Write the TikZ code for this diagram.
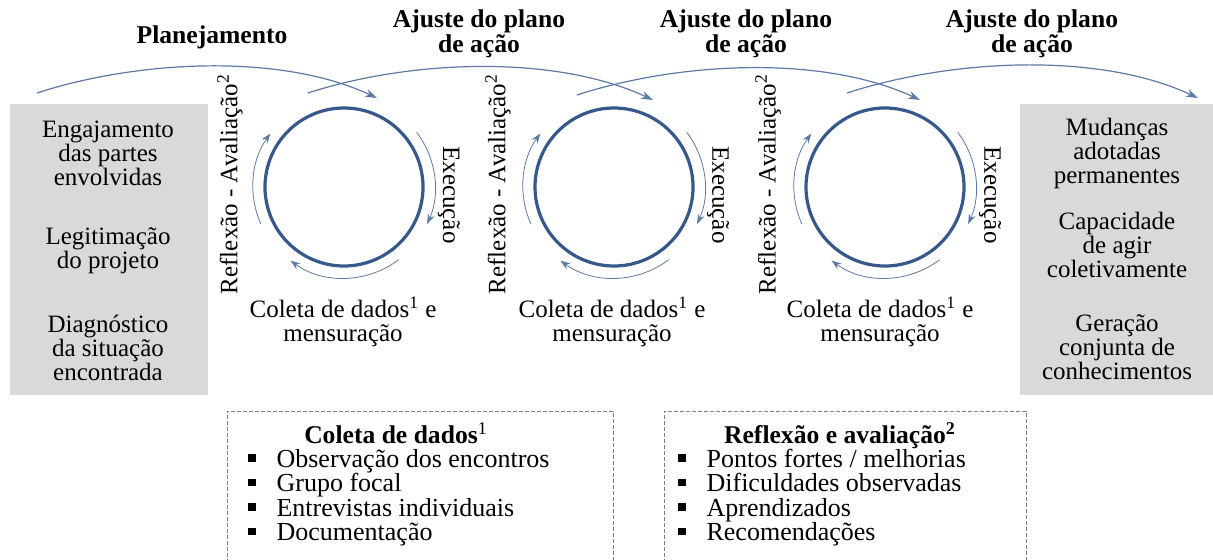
\documentclass[tikz,border=0pt]{standalone}
\usepackage{fontspec}
\setmainfont{Liberation Serif}
\usetikzlibrary{positioning, arrows.meta}
\definecolor{ringblue}{HTML}{37588A}
\definecolor{arcblue}{HTML}{5B7AA6}
\definecolor{panelgray}{HTML}{D9D9D9}
\definecolor{dashgray}{HTML}{7F7F7F}
\tikzstyle{arrow} = [semithick, draw=arcblue, -{Stealth[length=6pt,width=4pt]}]
\newcommand{\sqbullet}{\raisebox{2.7pt}{\rule{3.6pt}{3.6pt}}\hspace{10.5pt}}

\begin{document}
\begin{tikzpicture}[x=0.5pt, y=0.5pt]
    \tikzstyle{every node}=[font=\fontsize{12.5}{12}\selectfont]
    \tikzstyle{panel} = [rectangle, fill=panelgray, draw=none, inner sep=0pt, minimum width=99pt, minimum height=145.5pt]
    \tikzstyle{ring} = [circle, draw=ringblue, line width=1.6pt, minimum size=79pt, inner sep=0pt]
    \tikzstyle{turn} = [thin, draw=arcblue, -{Stealth[length=5pt,width=3.5pt]}]
    \tikzstyle{stage} = [align=center, inner sep=0pt]
    \tikzstyle{heading} = [align=center, inner sep=0pt, font=\fontsize{12.8}{12.5}\selectfont\bfseries]
    \tikzstyle{listbox} = [draw=dashgray, dash pattern=on 2pt off 1pt]
    \tikzstyle{item} = [anchor=base west, inner sep=0pt, font=\fontsize{13}{12}\selectfont]

    \useasboundingbox (0,0) rectangle (1213,-560);
    \clip (0,0) rectangle (1213,-560);

    % side panels
    \node[panel](left) at (109,-249.5) {};
    \node[panel, minimum width=97pt](right) at (1117,-249.5) {};
    \node[stage](l1) at (108,-153) {Engajamento\\das partes\\envolvidas};
    \node[stage](l2) at (108,-251) {Legitimação\\do projeto};
    \node[stage](l3) at (108,-348) {Diagnóstico\\da situação\\encontrada};
    \node[stage](r1) at (1117,-153) {Mudanças\\adotadas\\permanentes};
    \node[stage](r2) at (1117,-245) {Capacidade\\de agir\\coletivamente};
    \node[stage](r3) at (1117,-347) {Geração\\conjunta de\\conhecimentos};

    % headings
    \node[heading](h0) at (212,-37) {Planejamento};
    \node[heading](h1) at (479,-34) {Ajuste do plano\\de ação};
    \node[heading](h2) at (746,-34) {Ajuste do plano\\de ação};
    \node[heading](h3) at (1032,-34) {Ajuste do plano\\de ação};

    % cycles
    \node[ring](c1) at (344,-187) {};
    \node[ring](c2) at (614,-187) {};
    \node[ring](c3) at (885,-187) {};

    \draw[turn] ([shift={(37:45.5pt)}]c1.center) arc[start angle=37, end angle=-24, radius=45.5pt];
    \draw[turn] ([shift={(-53:45.5pt)}]c1.center) arc[start angle=-53, end angle=-126, radius=45.5pt];
    \draw[turn] ([shift={(204:45.5pt)}]c1.center) arc[start angle=204, end angle=144, radius=45.5pt];
    \draw[turn] ([shift={(37:45.5pt)}]c2.center) arc[start angle=37, end angle=-24, radius=45.5pt];
    \draw[turn] ([shift={(-53:45.5pt)}]c2.center) arc[start angle=-53, end angle=-126, radius=45.5pt];
    \draw[turn] ([shift={(204:45.5pt)}]c2.center) arc[start angle=204, end angle=144, radius=45.5pt];
    \draw[turn] ([shift={(37:45.5pt)}]c3.center) arc[start angle=37, end angle=-24, radius=45.5pt];
    \draw[turn] ([shift={(-53:45.5pt)}]c3.center) arc[start angle=-53, end angle=-126, radius=45.5pt];
    \draw[turn] ([shift={(204:45.5pt)}]c3.center) arc[start angle=204, end angle=144, radius=45.5pt];

    \node[stage, rotate=90](e1) at (230,-184) {Reflexão - Avaliação\textsuperscript{2}};
    \node[stage, rotate=90](e2) at (498,-184) {Reflexão - Avaliação\textsuperscript{2}};
    \node[stage, rotate=90](e3) at (768,-184) {Reflexão - Avaliação\textsuperscript{2}};
    \node[stage, rotate=-90](x1) at (449,-195) {Execução};
    \node[stage, rotate=-90](x2) at (718,-195) {Execução};
    \node[stage, rotate=-90](x3) at (990,-195) {Execução};
    \node[stage](d1) at (343,-322) {Coleta de dados\textsuperscript{1} e\\mensuração};
    \node[stage](d2) at (612,-322) {Coleta de dados\textsuperscript{1} e\\mensuração};
    \node[stage](d3) at (880,-322) {Coleta de dados\textsuperscript{1} e\\mensuração};

    % flow over the top
    \coordinate (s0) at (37,-93);
    \coordinate (s1) at (308,-93);
    \coordinate (s2) at (577,-95);
    \coordinate (s3) at (847,-93);
    \coordinate (t0) at (377,-98);
    \coordinate (t1) at (653,-100);
    \coordinate (t2) at (920,-100);
    \coordinate (t3) at (1198,-98);
    \draw[arrow] (s0) to[out=18, in=155, looseness=0.8] (t0);
    \draw[arrow] (s1) to[out=18, in=155, looseness=0.8] (t1);
    \draw[arrow] (s2) to[out=18, in=155, looseness=0.8] (t2);
    \draw[arrow] (s3) to[out=18, in=155, looseness=0.8] (t3);

    % data boxes
    \node[listbox, anchor=north west, minimum width=193pt, minimum height=80pt](b1) at (227,-411) {};
    \node[listbox, anchor=north west, minimum width=181pt, minimum height=80pt](b2) at (664,-411) {};
    \node[heading, anchor=base](k1) at (396,-443) {Coleta de dados\textsuperscript{\mdseries 1}};
    \node[heading, anchor=base](k2) at (840,-443) {Reflexão e avaliação\textsuperscript{2}};
    \node[item](i1) at (248,-467) {\sqbullet Observação dos encontros};
    \node[item](i2) at (248,-491.5) {\sqbullet Grupo focal};
    \node[item](i3) at (248,-516) {\sqbullet Entrevistas individuais};
    \node[item](i4) at (248,-540.5) {\sqbullet Documentação};
    \node[item](j1) at (678,-467) {\sqbullet Pontos fortes / melhorias};
    \node[item](j2) at (678,-491.5) {\sqbullet Dificuldades observadas};
    \node[item](j3) at (678,-516) {\sqbullet Aprendizados};
    \node[item](j4) at (678,-540.5) {\sqbullet Recomendações};
\end{tikzpicture}
\end{document}
